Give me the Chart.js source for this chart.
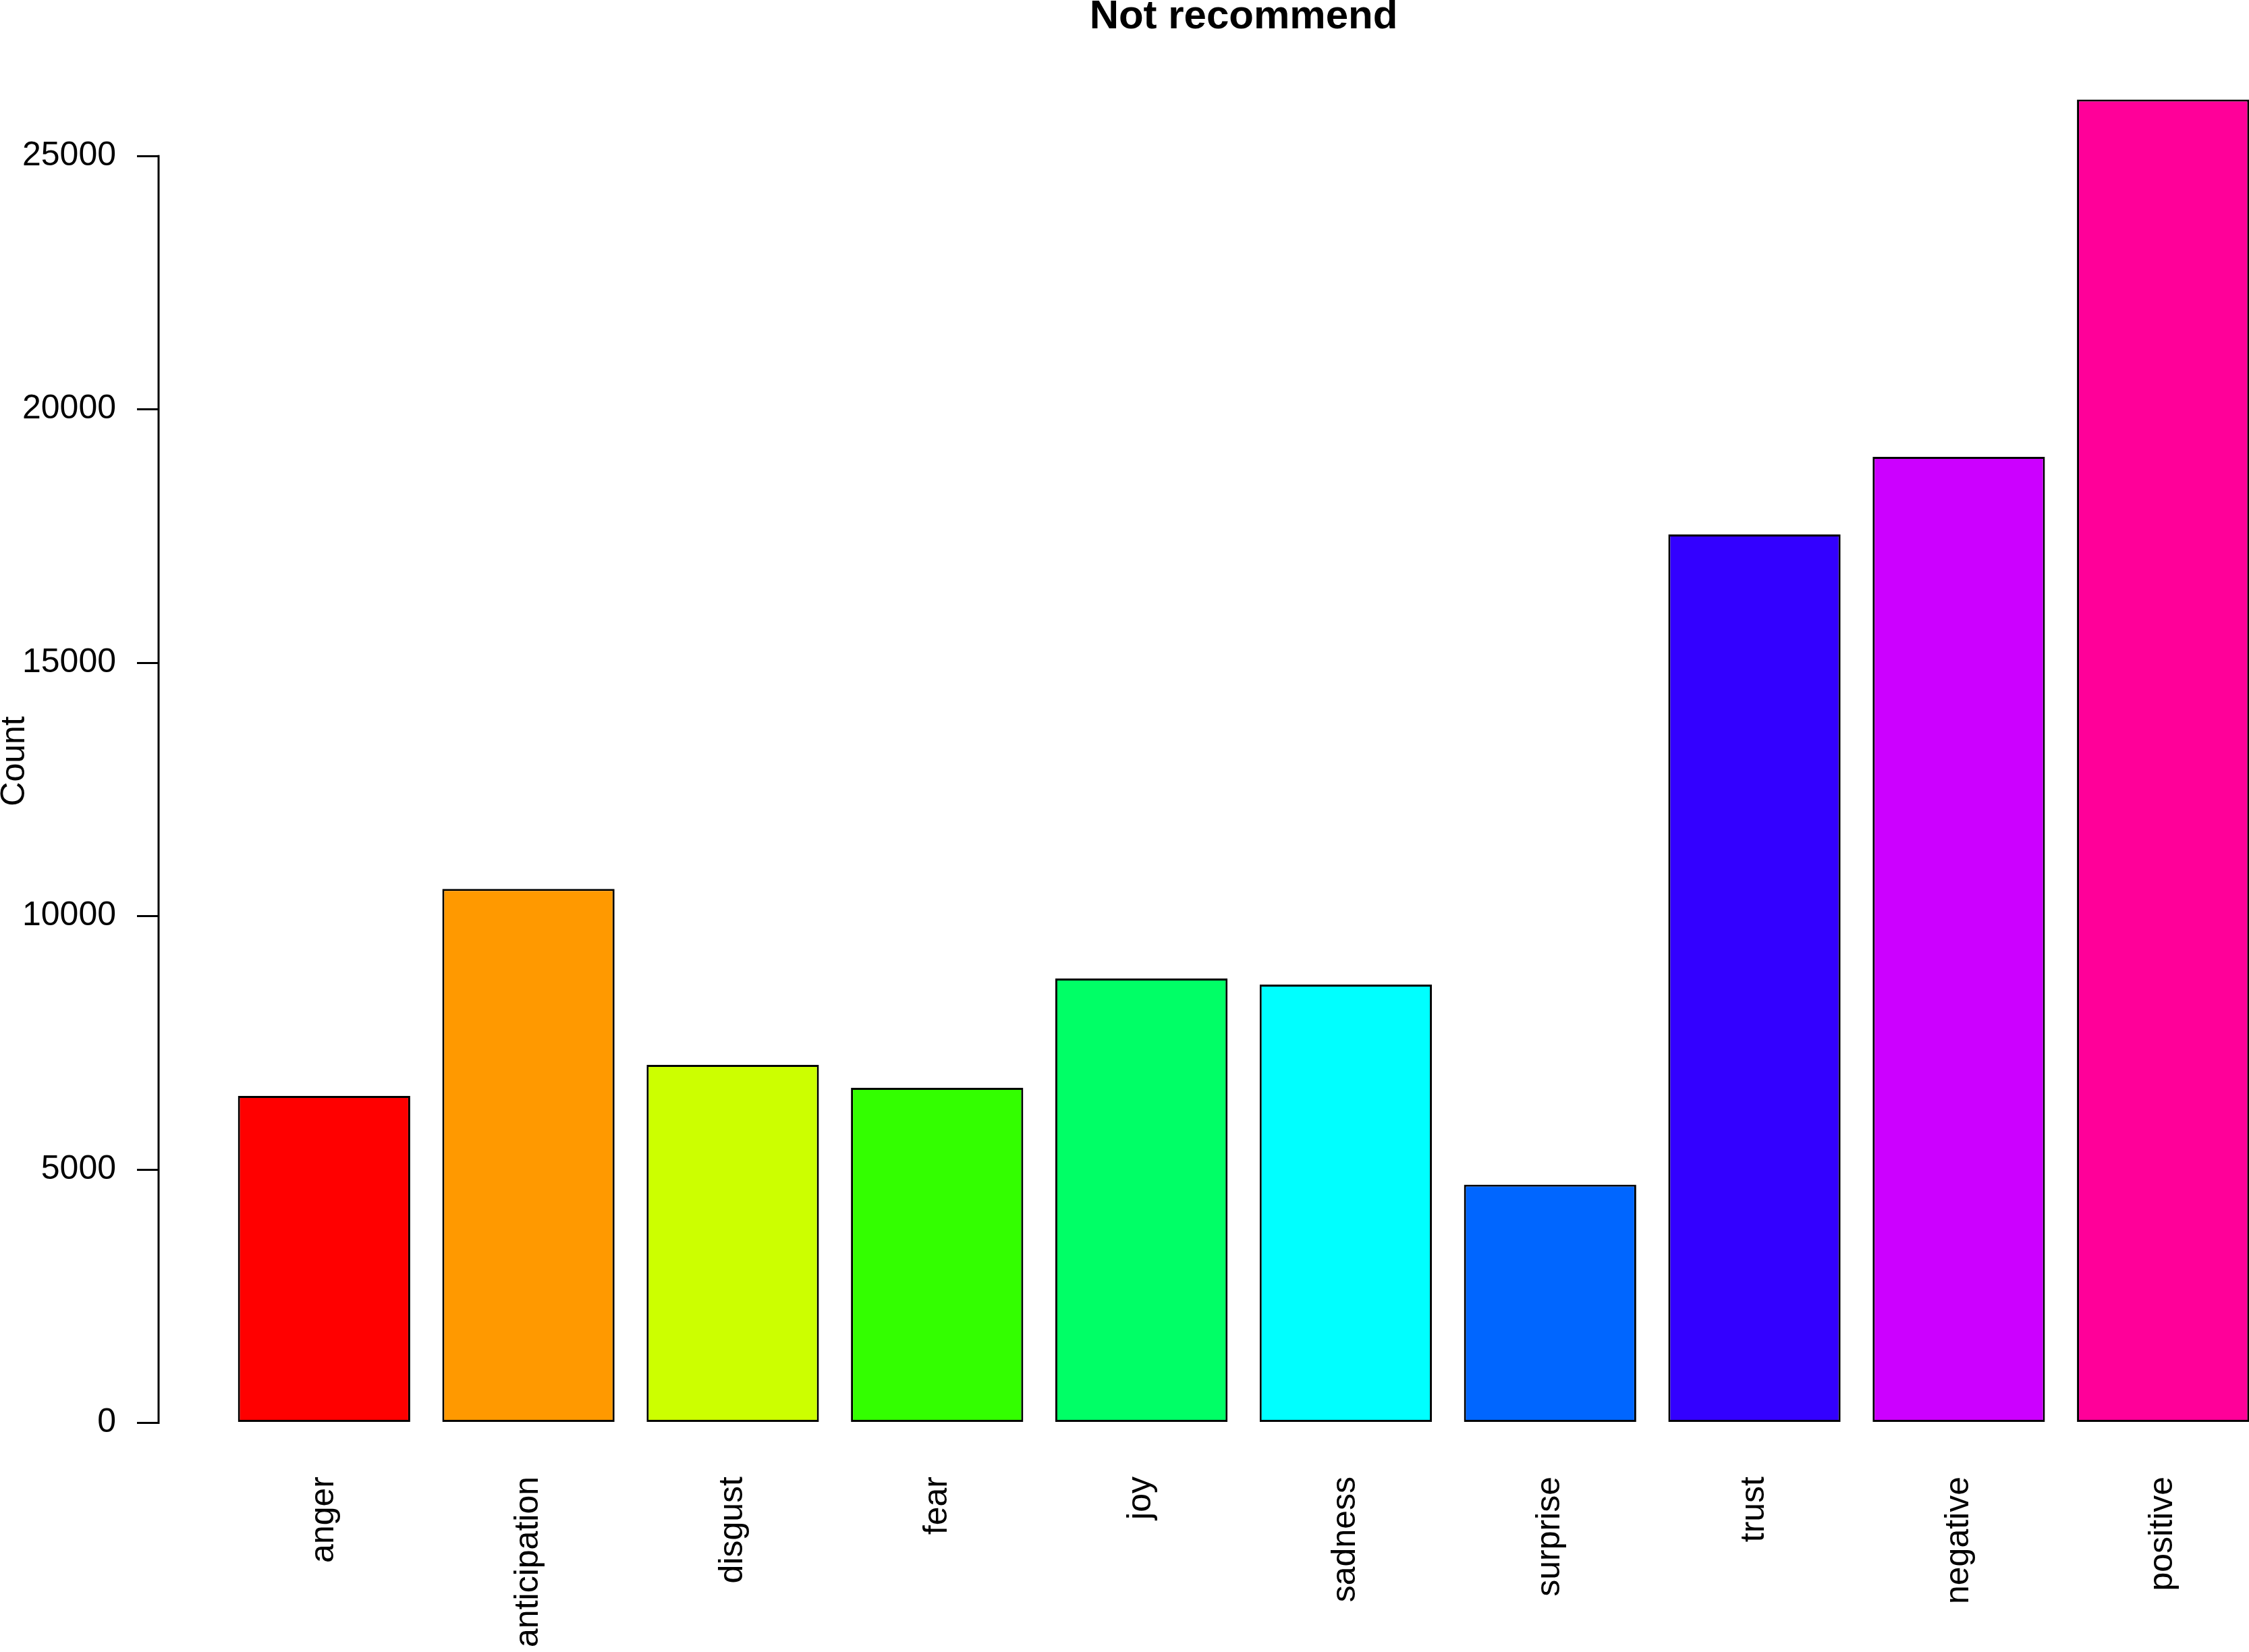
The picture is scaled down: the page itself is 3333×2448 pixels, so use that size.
<!DOCTYPE html>
<html>
<head>
<meta charset="utf-8">
<title>Not recommend</title>
<script src="https://cdn.jsdelivr.net/npm/chart.js@4.4.1/dist/chart.umd.min.js"></script>
<style>
  html, body { margin: 0; padding: 0; background: #fff; overflow: hidden; }
  #wrap { width: 3333px; height: 2448px; overflow: hidden; background: #fff; }
  canvas { display: block; }
</style>
</head>
<body>
<div id="wrap"><canvas id="emotion-chart" width="3686" height="2448"></canvas></div>
<script>
// values
const categories = ["anger", "anticipation", "disgust", "fear", "joy", "sadness", "surprise", "trust", "negative", "positive"];
const counts = [6454, 10538, 7067, 6614, 8771, 8651, 4702, 17533, 19064, 26116];
const barColors = ["#FF0000", "#FF9900", "#CCFF00", "#33FF00", "#00FF66", "#00FFFF", "#0066FF", "#3300FF", "#CC00FF", "#FF0099"];
const yTicks = [0, 5000, 10000, 15000, 20000, 25000];

document.addEventListener("DOMContentLoaded", function () {
  const canvas = document.getElementById("emotion-chart");

  // barplot layout: width 1, space 0.2, axes padded by 4%
  const barCenters = categories.map((c, i) => 0.7 + 1.2 * i);
  const xLo = 0.2, xHi = 1.2 * categories.length;
  const xMin = xLo - 0.04 * (xHi - xLo);
  const xMax = xHi + 0.04 * (xHi - xLo);
  const topCount = Math.max(...counts);
  const yMin = -0.04 * topCount;
  const yMax = 1.04 * topCount;

  Chart.defaults.font.family = '"Liberation Sans", Arial, Helvetica, sans-serif';
  Chart.defaults.font.size = 50;
  Chart.defaults.color = "#000";

  // y axis line only from first to last tick
  const axisLinePlugin = {
    id: "axisLine",
    afterDraw(chart) {
      const yScale = chart.scales.y;
      const ctx = chart.ctx;
      const x = Math.round(chart.chartArea.left);
      ctx.save();
      ctx.strokeStyle = "#000";
      ctx.lineWidth = 3;
      ctx.lineCap = "square";
      ctx.beginPath();
      ctx.moveTo(x, yScale.getPixelForValue(yTicks[0]));
      ctx.lineTo(x, yScale.getPixelForValue(yTicks[yTicks.length - 1]));
      ctx.stroke();
      ctx.restore();
    }
  };

  new Chart(canvas, {
    type: "bar",
    data: {
      datasets: [
        {
          data: counts.map((v, i) => ({ x: barCenters[i], y: v })),
          backgroundColor: barColors,
          borderColor: "#000",
          borderWidth: 3,
          borderSkipped: false,
          categoryPercentage: 1,
          barPercentage: 0.843
        }
      ]
    },
    options: {
      responsive: false,
      animation: false,
      events: [],
      layout: { padding: 0 },
      scales: {
        x: {
          type: "linear",
          min: xMin,
          max: xMax,
          offset: false,
          grid: { display: false, drawTicks: false },
          border: { display: false },
          afterBuildTicks: scale => {
            scale.ticks = barCenters.map(v => ({ value: v }));
          },
          ticks: {
            autoSkip: false,
            minRotation: 90,
            maxRotation: 90,
            padding: 1,
            callback: (value, index) => categories[index]
          },
          afterFit: scale => {
            scale.height = 261;
          }
        },
        y: {
          type: "linear",
          position: "left",
          min: yMin,
          max: yMax,
          afterBuildTicks: scale => {
            scale.ticks = yTicks.map(v => ({ value: v }));
          },
          grid: {
            display: true,
            drawOnChartArea: false,
            drawTicks: true,
            tickLength: 32,
            color: "#000",
            lineWidth: 3
          },
          border: { display: false },
          ticks: {
            padding: 31,
            callback: value => String(value)
          },
          title: {
            display: true,
            text: "Count",
            font: { size: 50, lineHeight: "44px" },
            padding: 0
          },
          afterFit: scale => {
            scale.width = 235;
          }
        },
        yPad: {
          type: "linear",
          position: "right",
          display: true,
          grid: { display: false },
          border: { display: false },
          ticks: { display: false },
          afterFit: scale => {
            scale.width = 235;
          }
        }
      },
      plugins: {
        legend: { display: false },
        tooltip: { enabled: false },
        title: {
          display: true,
          text: "Not recommend",
          color: "#000",
          font: { size: 60, weight: "bold", lineHeight: "50px" },
          padding: { top: 0, bottom: 19 }
        }
      }
    },
    plugins: [axisLinePlugin]
  });
});
</script>
</body>
</html>
